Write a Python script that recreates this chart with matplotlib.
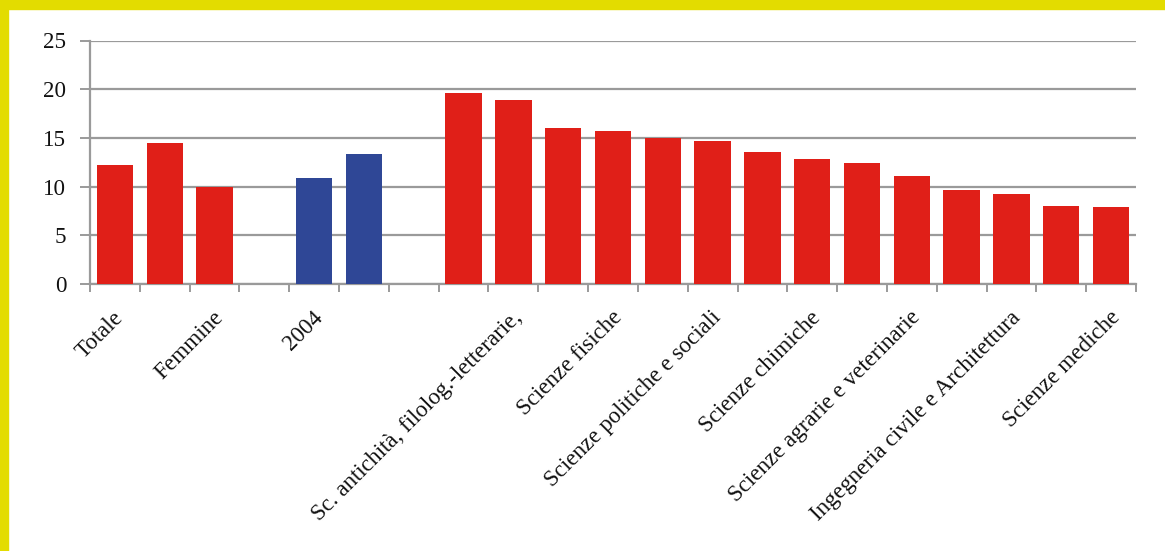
import matplotlib.pyplot as plt
import numpy as np
from matplotlib.patches import Rectangle
from matplotlib.transforms import ScaledTranslation

# categorie (Excel mostra solo un'etichetta ogni due)
categorie = ["Totale", "Maschi", "Femmine", "", "2004", "2008", "",
             "Scienze storiche, filosofiche,", "Sc. antichità, filolog.-letterarie,",
             "Scienze matematiche", "Scienze fisiche", "Scienze giuridiche",
             "Scienze politiche e sociali", "Scienze economiche", "Scienze chimiche",
             "Scienze della terra", "Scienze agrarie e veterinarie", "Scienze biologiche",
             "Ingegneria civile e Architettura", "Ingegneria industriale", "Scienze mediche"]
valori = [12.2, 14.5, 10.0, 0, 10.9, 13.3, 0,
          19.6, 18.9, 16.0, 15.7, 15.0, 14.7, 13.6, 12.8,
          12.4, 11.1, 9.7, 9.2, 8.0, 7.9]
gruppo = ["r", "r", "r", "", "b", "b", "",
          "r", "r", "r", "r", "r", "r", "r", "r",
          "r", "r", "r", "r", "r", "r"]

ROSSO = "#e01f18"
BLU = "#2f4796"
GIALLO = "#e3dc00"
GRIGIO = "#9a9a9a"

plt.rcParams['font.family'] = ['Liberation Serif', 'DejaVu Serif']

fig = plt.figure(figsize=(11.65, 5.51), dpi=100)
ax = fig.add_axes([90 / 1165, 1 - 284 / 551, (1136 - 90) / 1165, (284 - 40.5) / 551])

x = np.arange(len(categorie))
colori = [ROSSO if g == "r" else BLU for g in gruppo]
altezze = [v if g else 0 for v, g in zip(valori, gruppo)]
ax.bar(x, altezze, width=0.73, color=colori, zorder=3)

ax.set_xlim(-0.5, len(categorie) - 0.5)
ax.set_ylim(0, 25)
ax.set_yticks([0, 5, 10, 15, 20, 25])
ax.grid(axis="y", color=GRIGIO, linewidth=1.6, zorder=0)

# etichette: una ogni due categorie
etichette = [c if i % 2 == 0 else "" for i, c in enumerate(categorie)]
ax.set_xticks(x)
ax.set_xticklabels(etichette, rotation=45, ha="right", va="center",
                   rotation_mode="anchor", fontsize=16.6, color="#111111")
ax.tick_params(axis="x", which="major", length=0, pad=22)
spost = ScaledTranslation(4 / 72, 0, fig.dpi_scale_trans)
for lab in ax.get_xticklabels():
    lab.set_transform(lab.get_transform() + spost)
ax.set_xticks(np.arange(-0.5, len(categorie)), minor=True)
ax.tick_params(axis="x", which="minor", length=6, width=1.4, color=GRIGIO)
ax.tick_params(axis="y", length=7, width=1.4, color=GRIGIO, labelsize=16.6,
               labelcolor="#111111", pad=10)

for s in ["top", "right"]:
    ax.spines[s].set_visible(False)
for s in ["left", "bottom"]:
    ax.spines[s].set_color(GRIGIO)
    ax.spines[s].set_linewidth(1.6)

# cornice gialla
fig.patches.append(Rectangle((0, 1 - 9 / 551), 1, 9 / 551, transform=fig.transFigure,
                             color=GIALLO, zorder=-1))
fig.patches.append(Rectangle((0, 0), 8 / 1165, 1, transform=fig.transFigure,
                             color=GIALLO, zorder=-1))

fig.savefig("out.png", dpi=100)
